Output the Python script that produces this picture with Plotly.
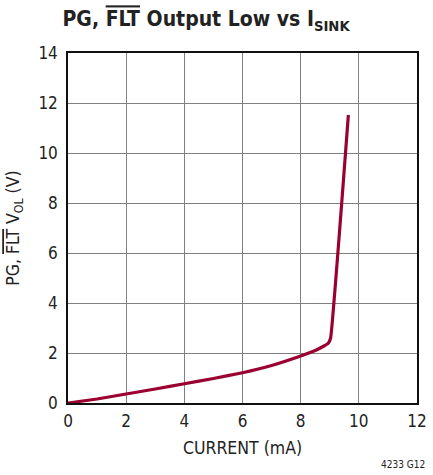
import plotly.graph_objects as go

current_ma = [0, 1, 2, 3, 4, 5, 6, 7, 8, 8.5, 8.8, 8.95, 9.03, 9.64]
vol_v = [0, 0.16, 0.36, 0.56, 0.77, 0.98, 1.21, 1.5, 1.88, 2.1, 2.28, 2.39, 2.6, 11.52]
x_ticks = [0, 2, 4, 6, 8, 10, 12]
y_ticks = [0, 2, 4, 6, 8, 10, 12, 14]

FONT = "DejaVu Sans Condensed, sans-serif"

fig = go.Figure()
fig.add_trace(go.Scatter(x=current_ma, y=vol_v, mode="lines",
                         line=dict(color="#9a0030", width=3.2, shape="spline", smoothing=0.3),
                         hoverinfo="skip"))

axis_common = dict(showgrid=True, gridcolor="#808080", gridwidth=1.3,
                   showline=True, linecolor="#111", linewidth=1.5, mirror=True,
                   ticks="", zeroline=False, automargin=False,
                   tickfont=dict(family=FONT, size=17, color="#222"))

fig.update_xaxes(range=[0, 12], tickvals=x_ticks, ticktext=[str(v) for v in x_ticks],
                 title=dict(text="CURRENT (mA)", font=dict(family=FONT, size=17.5, color="#222"), standoff=12),
                 ticklabelstandoff=2,
                 **axis_common)
fig.update_yaxes(range=[0, 14], tickvals=y_ticks, ticktext=[str(v) for v in y_ticks],
                 title=dict(text="PG, <span style='text-decoration:overline'>FLT</span> V<sub>OL</sub> (V)",
                            font=dict(family=FONT, size=17.5, color="#222"), standoff=14),
                 ticklabelstandoff=5,
                 **axis_common)

fig.update_layout(
    width=433, height=475,
    margin=dict(l=68, r=16, t=53, b=72),
    paper_bgcolor="white", plot_bgcolor="white",
    showlegend=False,
    title=dict(text="<b>PG, <span style='text-decoration:overline'>FLT</span> Output Low vs I<sub>SINK</sub></b>",
               x=0.476, xanchor="center", y=0.960, yanchor="middle",
               font=dict(family=FONT, size=21, color="#222")),
    annotations=[dict(text="4233 G12", xref="paper", yref="paper", x=1.03, y=-0.177,
                      xanchor="right", yanchor="middle", showarrow=False,
                      font=dict(family=FONT, size=10, color="#222"))],
)

fig.write_html("out.html", config={"displayModeBar": False},
               post_script="document.body.style.margin='0';document.body.style.overflow='hidden';")
